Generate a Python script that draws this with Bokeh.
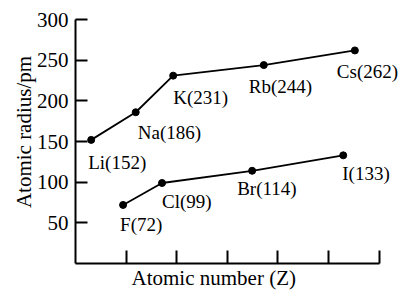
from bokeh.plotting import figure
from bokeh.models import ColumnDataSource, Range1d, FixedTicker, Title
from bokeh.embed import file_html
from bokeh.resources import INLINE
from bokeh.core.properties import value

# ---- data ----
alkali_names = ["Li", "Na", "K", "Rb", "Cs"]
alkali_radius = [152, 186, 231, 244, 262]
alkali_pos = [0.31, 1.19, 1.93, 3.72, 5.52]

halogen_names = ["F", "Cl", "Br", "I"]
halogen_radius = [72, 99, 114, 133]
halogen_pos = [0.94, 1.71, 3.49, 5.29]

y_ticks = [50, 100, 150, 200, 250, 300]
x_ticks = [1, 2, 3, 4, 5, 6]

x_title = "Atomic number (Z)"
y_title = "Atomic radius/pm"

# label placement (pixels, relative to point)
alkali_dx = [-3, 2, 0, -15, -18]
alkali_dy = [23, 20, 22, 21, 21]
halogen_dx = [-3, 0, -15, -1]
halogen_dy = [20, 19, 18, 18]

FONT = "Liberation Serif"

def make_source(names, pos, radius, dx, dy):
    return ColumnDataSource(dict(
        x=pos, y=radius,
        label=[f"{n}({r})" for n, r in zip(names, radius)],
        dx=dx, dy=dy,
    ))

p = figure(frame_width=332, frame_height=263,
           x_range=Range1d(0, 6.56), y_range=Range1d(0, 323.4),
           output_backend="svg", toolbar_location=None,
           min_border_left=75, min_border_right=0,
           min_border_top=0, min_border_bottom=0)
p.grid.visible = False
p.outline_line_color = None
p.background_fill_color = "white"
p.border_fill_color = "white"

for names, pos, radius, dx, dy in [
        (alkali_names, alkali_pos, alkali_radius, alkali_dx, alkali_dy),
        (halogen_names, halogen_pos, halogen_radius, halogen_dx, halogen_dy)]:
    src = make_source(names, pos, radius, dx, dy)
    p.line("x", "y", source=src, line_color="black", line_width=1.8)
    p.scatter("x", "y", source=src, size=7, color="black")
    p.text("x", "y", text="label", source=src, x_offset="dx", y_offset="dy",
           text_font=value(FONT), text_font_size="19px", text_color="black",
           text_align="left", text_baseline="alphabetic")

# y axis
ya = p.yaxis[0]
ya.ticker = FixedTicker(ticks=y_ticks)
ya.bounds = (0, 300)
ya.axis_label = y_title
ya.axis_label_text_font = FONT
ya.axis_label_text_font_size = "21px"
ya.axis_label_text_font_style = "normal"
ya.axis_label_text_color = "black"
ya.axis_label_standoff = -2
ya.major_label_text_font = FONT
ya.major_label_text_font_size = "21px"
ya.major_label_text_color = "black"
ya.major_label_standoff = 7
ya.axis_line_width = 2
ya.axis_line_color = "black"
ya.major_tick_in = 12
ya.major_tick_out = 0
ya.major_tick_line_width = 2
ya.major_tick_line_color = "black"
ya.minor_tick_line_color = None

# x axis: unlabeled ticks drawn as minor ticks
xa = p.xaxis[0]
xa.ticker = FixedTicker(ticks=[], minor_ticks=x_ticks)
xa.bounds = (0, 6)
xa.major_label_standoff = 0
xa.axis_line_width = 2
xa.axis_line_color = "black"
xa.major_tick_in = 0
xa.major_tick_out = 0
xa.minor_tick_in = 13
xa.minor_tick_out = 0
xa.minor_tick_line_width = 2
xa.minor_tick_line_color = "black"

# x-axis title as a title below, offset to match the reference
p.add_layout(Title(text=x_title, align="left", offset=56,
                   vertical_align="top", standoff=4,
                   text_font=FONT, text_font_size="21px",
                   text_font_style="normal", text_color="black"), "below")

open("out.html", "w").write(file_html(p, INLINE))
